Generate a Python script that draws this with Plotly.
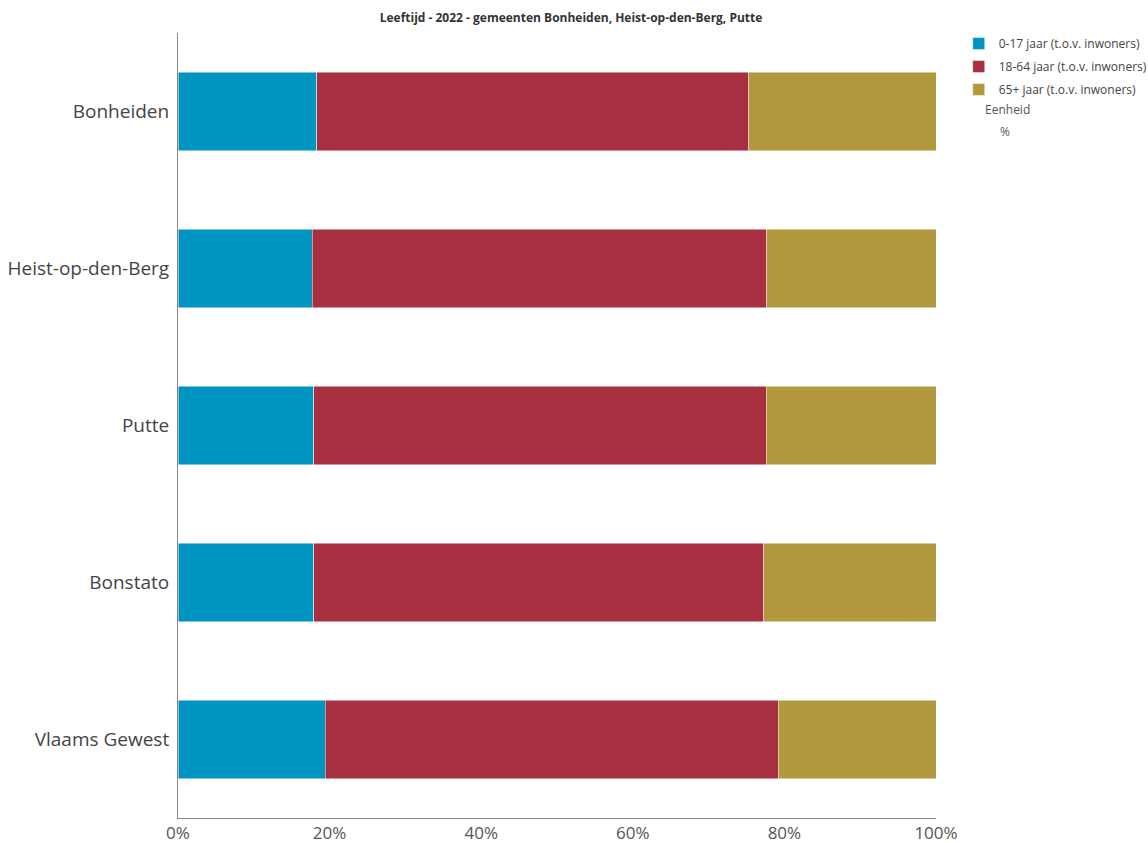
import plotly.graph_objects as go

categories = ["Bonheiden", "Heist-op-den-Berg", "Putte", "Bonstato", "Vlaams Gewest"]
age_0_17 = [18.3, 17.7, 17.9, 17.9, 19.4]
age_18_64 = [57.0, 60.0, 59.7, 59.4, 59.8]
age_65_plus = [24.7, 22.3, 22.4, 22.7, 20.8]
series_names = ["0-17 jaar (t.o.v. inwoners)", "18-64 jaar (t.o.v. inwoners)", "65+ jaar (t.o.v. inwoners)"]
colors = ["#0095c1", "#a82f3f", "#b3993d"]
x_ticks = [0, 20, 40, 60, 80, 100]
x_tick_labels = ["0%", "20%", "40%", "60%", "80%", "100%"]

fig = go.Figure()
for i, (name, vals, col) in enumerate(zip(series_names, [age_0_17, age_18_64, age_65_plus], colors)):
    fig.add_trace(go.Bar(
        y=categories, x=vals, name=name, orientation="h", legendgroup=f"g{i}",
        marker=dict(color=col, line=dict(color="rgba(255,255,255,0.6)", width=0.8)),
    ))

fig.update_layout(
    barmode="stack",
    bargap=0.5,
    width=1148, height=843,
    margin=dict(l=178, r=212, t=33, b=25, autoexpand=False),
    paper_bgcolor="white", plot_bgcolor="white",
    font=dict(family="Open Sans, sans-serif", color="#444"),
    title=dict(text="<b>Leeftijd - 2022 - gemeenten Bonheiden, Heist-op-den-Berg, Putte</b>",
               x=0.4974, xref="container", xanchor="center", y=0.979, yanchor="middle",
               font=dict(size=12, color="#333")),
    legend=dict(x=1.030, xanchor="left", y=1.005, yanchor="top", font=dict(size=12, color="#444"),
                traceorder="grouped", itemclick=False, tracegroupgap=4, bgcolor="rgba(0,0,0,0)"),
    xaxis=dict(range=[0, 100], tickvals=x_ticks, ticktext=x_tick_labels, showgrid=False, zeroline=False,
               showline=True, linecolor="#888", linewidth=1, ticks="", tickfont=dict(size=17, color="#555")),
    yaxis=dict(autorange="reversed", showgrid=False, showline=True, linecolor="#888", linewidth=1,
               ticks="", tickfont=dict(size=19, color="#444"), ticklabelstandoff=4),
)

fig.add_annotation(text="Eenheid", xref="paper", yref="paper", x=1.062, y=0.902, xanchor="left",
                   yanchor="middle", showarrow=False, font=dict(size=12, color="#555"))
fig.add_annotation(text="%", xref="paper", yref="paper", x=1.082, y=0.874, xanchor="left",
                   yanchor="middle", showarrow=False, font=dict(size=12, color="#555"))

fig.write_html("out.html", config={"displayModeBar": False},
               post_script="document.body.style.margin='0px';document.body.style.overflow='hidden';")
